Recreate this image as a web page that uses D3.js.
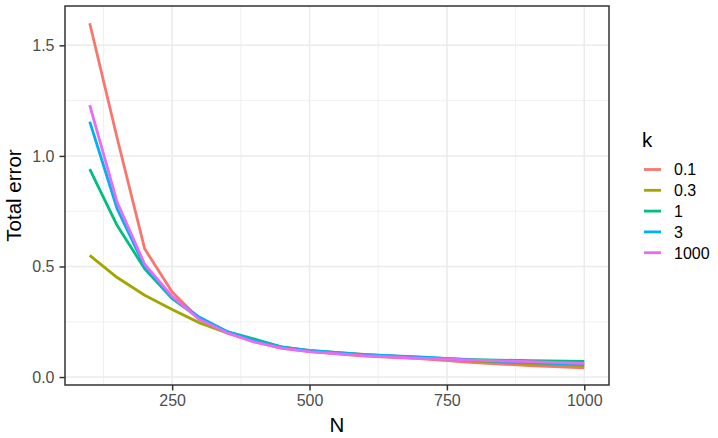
<!DOCTYPE html>
<html>
<head>
<meta charset="utf-8">
<script src="https://cdn.jsdelivr.net/npm/d3@7"></script>
<style>
  html, body { margin: 0; padding: 0; background: #fff; }
  svg { display: block; font-family: "Liberation Sans", Arial, Helvetica, sans-serif; }
</style>
</head>
<body>
<svg id="chart" width="718" height="438"></svg>
<script>
const N = [100, 150, 200, 250, 300, 350, 400, 450, 500, 600, 700, 800, 900, 1000];
const kLevels = ["0.1", "0.3", "1", "3", "1000"];
const err_k0_1  = [1.60, 1.08, 0.58, 0.385, 0.26, 0.200, 0.160, 0.130, 0.115, 0.095, 0.083, 0.065, 0.052, 0.042];
const err_k0_3  = [0.55, 0.45, 0.37, 0.305, 0.245, 0.200, 0.167, 0.136, 0.120, 0.102, 0.088, 0.073, 0.060, 0.052];
const err_k1    = [0.94, 0.685, 0.49, 0.355, 0.265, 0.205, 0.172, 0.135, 0.118, 0.100, 0.089, 0.079, 0.074, 0.071];
const err_k3    = [1.155, 0.76, 0.50, 0.36, 0.27, 0.206, 0.165, 0.135, 0.121, 0.101, 0.091, 0.076, 0.065, 0.057];
const err_k1000 = [1.23, 0.79, 0.51, 0.365, 0.26, 0.200, 0.158, 0.131, 0.115, 0.097, 0.085, 0.077, 0.070, 0.062];
const seriesValues = [err_k0_1, err_k0_3, err_k1, err_k3, err_k1000];
const colors = ["#F8766D", "#A3A500", "#00BF7D", "#00B0F6", "#E76BF3"];
const xTicks = [250, 500, 750, 1000];
const xMinor = [125, 375, 625, 875];
const yTicks = [0, 0.5, 1.0, 1.5];
const yMinor = [0.25, 0.75, 1.25];

const FONT = "'Liberation Sans', Arial, Helvetica, sans-serif";
const svg = d3.select("#chart");
const panel = { left: 65, right: 609, top: 6, bottom: 385 };

const xMin = d3.min(N), xMax = d3.max(N);
const xPad = (xMax - xMin) * 0.05;
const x = d3.scaleLinear().domain([xMin - xPad, xMax + xPad]).range([panel.left, panel.right]);
const allY = seriesValues.flat();
const yMin = d3.min(allY), yMax = d3.max(allY);
const yPad = (yMax - yMin) * 0.05;
const y = d3.scaleLinear().domain([yMin - yPad, yMax + yPad]).range([panel.bottom, panel.top]);

svg.append("rect").attr("x", panel.left).attr("y", panel.top)
  .attr("width", panel.right - panel.left).attr("height", panel.bottom - panel.top).attr("fill", "#fff");

const grid = svg.append("g");
xMinor.forEach(v => grid.append("line").attr("x1", x(v)).attr("x2", x(v)).attr("y1", panel.top).attr("y2", panel.bottom)
  .attr("stroke", "#EBEBEB").attr("stroke-width", 0.75));
yMinor.forEach(v => grid.append("line").attr("y1", y(v)).attr("y2", y(v)).attr("x1", panel.left).attr("x2", panel.right)
  .attr("stroke", "#EBEBEB").attr("stroke-width", 0.75));
xTicks.forEach(v => grid.append("line").attr("x1", x(v)).attr("x2", x(v)).attr("y1", panel.top).attr("y2", panel.bottom)
  .attr("stroke", "#EBEBEB").attr("stroke-width", 1.5));
yTicks.forEach(v => grid.append("line").attr("y1", y(v)).attr("y2", y(v)).attr("x1", panel.left).attr("x2", panel.right)
  .attr("stroke", "#EBEBEB").attr("stroke-width", 1.5));

const line = d3.line().x(d => x(d[0])).y(d => y(d[1]));
seriesValues.forEach((vals, i) => {
  svg.append("path")
    .datum(N.map((n, j) => [n, vals[j]]))
    .attr("d", line)
    .attr("fill", "none")
    .attr("stroke", colors[i])
    .attr("stroke-width", 2.8)
    .attr("stroke-linejoin", "round")
    .attr("stroke-linecap", "butt");
});

svg.append("rect").attr("x", panel.left).attr("y", panel.top)
  .attr("width", panel.right - panel.left).attr("height", panel.bottom - panel.top)
  .attr("fill", "none").attr("stroke", "#333333").attr("stroke-width", 1.5);

const xAxis = d3.axisBottom(x).tickValues(xTicks).tickSize(5.5).tickPadding(4).tickFormat(d3.format("d"));
const gx = svg.append("g").attr("transform", `translate(0,${panel.bottom})`).call(xAxis);
gx.select(".domain").remove();
gx.selectAll(".tick line").attr("stroke", "#333333").attr("stroke-width", 1.5);
gx.selectAll(".tick text").attr("fill", "#4D4D4D").style("font-size", "16px").style("font-family", FONT);

const yAxis = d3.axisLeft(y).tickValues(yTicks).tickSize(5.5).tickPadding(5).tickFormat(d3.format(".1f"));
const gy = svg.append("g").attr("transform", `translate(${panel.left},0)`).call(yAxis);
gy.select(".domain").remove();
gy.selectAll(".tick line").attr("stroke", "#333333").attr("stroke-width", 1.5);
gy.selectAll(".tick text").attr("fill", "#4D4D4D").style("font-size", "16px").style("font-family", FONT);

svg.append("text").attr("x", (panel.left + panel.right) / 2).attr("y", 431.5)
  .attr("text-anchor", "middle").attr("fill", "#000").style("font-size", "20.5px").style("font-family", FONT).text("N");
svg.append("text").attr("transform", `translate(21,${(panel.top + panel.bottom) / 2}) rotate(-90)`)
  .attr("text-anchor", "middle").attr("fill", "#000").style("font-size", "20.5px").style("font-family", FONT).text("Total error");

const lg = svg.append("g");
lg.append("text").attr("x", 642).attr("y", 147).attr("fill", "#000").style("font-size", "20.5px").style("font-family", FONT).text("k");
kLevels.forEach((k, i) => {
  const cy = 169.5 + i * 20.8;
  lg.append("line").attr("x1", 644).attr("x2", 661).attr("y1", cy).attr("y2", cy)
    .attr("stroke", colors[i]).attr("stroke-width", 2.8);
  lg.append("text").attr("x", 674).attr("y", cy + 5.8).attr("fill", "#000")
    .style("font-size", "16px").style("font-family", FONT).text(k);
});
</script>
</body>
</html>
